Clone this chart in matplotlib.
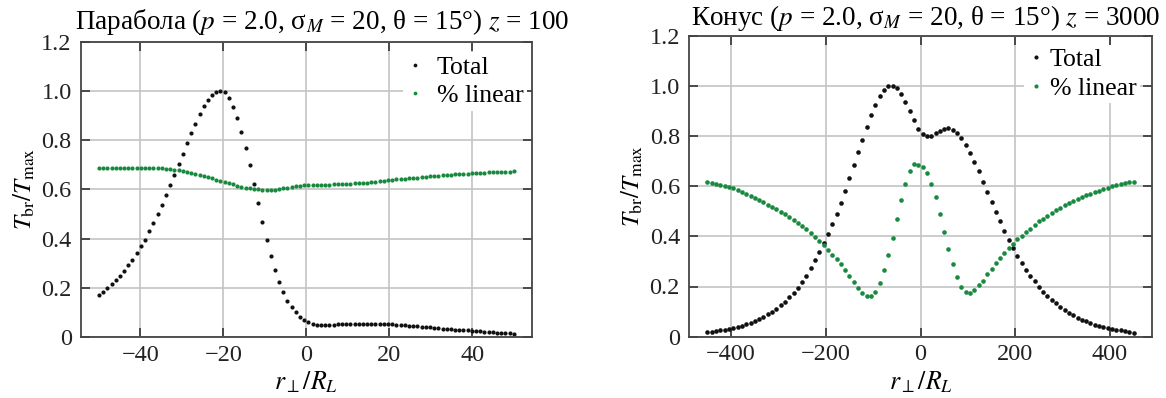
import numpy as np
import matplotlib
matplotlib.use("Agg")
import matplotlib.pyplot as plt

plt.rcParams['font.family'] = ['Liberation Serif', 'DejaVu Serif']
plt.rcParams['mathtext.fontset'] = 'stix'
plt.rcParams['axes.unicode_minus'] = True

# ---------------- data ----------------
left_x = np.linspace(-50, 50, 100)
left_total = [
    0.170, 0.184, 0.199, 0.215, 0.231, 0.250, 0.270, 0.292, 0.315, 0.342,
    0.369, 0.396, 0.430, 0.464, 0.499, 0.537, 0.576, 0.617, 0.659, 0.702,
    0.745, 0.788, 0.829, 0.867, 0.905, 0.937, 0.964, 0.983, 0.994, 1.000,
    0.997, 0.970, 0.935, 0.890, 0.834, 0.770, 0.698, 0.621, 0.544, 0.469,
    0.396, 0.331, 0.273, 0.223, 0.181, 0.147, 0.120, 0.100, 0.083, 0.070,
    0.060, 0.054, 0.050, 0.049, 0.049, 0.050, 0.050, 0.051, 0.051, 0.051,
    0.052, 0.052, 0.052, 0.052, 0.053, 0.053, 0.053, 0.053, 0.052, 0.052,
    0.051, 0.050, 0.049, 0.048, 0.046, 0.045, 0.043, 0.042, 0.040, 0.039,
    0.037, 0.036, 0.034, 0.033, 0.032, 0.030, 0.029, 0.028, 0.027, 0.025,
    0.024, 0.023, 0.022, 0.021, 0.020, 0.018, 0.017, 0.016, 0.015, 0.014,
]
left_linear = [
    0.688, 0.688, 0.688, 0.688, 0.688, 0.688, 0.688, 0.688, 0.688, 0.688,
    0.688, 0.688, 0.687, 0.687, 0.686, 0.685, 0.684, 0.682, 0.680, 0.677,
    0.674, 0.671, 0.667, 0.663, 0.659, 0.655, 0.650, 0.645, 0.640, 0.635,
    0.630, 0.625, 0.620, 0.615, 0.611, 0.607, 0.604, 0.602, 0.600, 0.599,
    0.598, 0.598, 0.599, 0.601, 0.604, 0.607, 0.610, 0.612, 0.614, 0.616,
    0.617, 0.618, 0.618, 0.619, 0.619, 0.619, 0.620, 0.620, 0.621, 0.622,
    0.623, 0.624, 0.625, 0.626, 0.628, 0.629, 0.631, 0.633, 0.635, 0.637,
    0.639, 0.641, 0.642, 0.644, 0.645, 0.647, 0.648, 0.650, 0.651, 0.653,
    0.655, 0.656, 0.657, 0.658, 0.659, 0.661, 0.662, 0.663, 0.664, 0.665,
    0.666, 0.667, 0.668, 0.669, 0.670, 0.670, 0.671, 0.672, 0.672, 0.673,
]

right_x = np.linspace(-450, 450, 100)
right_total = [
    0.017, 0.020, 0.022, 0.025, 0.028, 0.031, 0.035, 0.039, 0.044, 0.049,
    0.055, 0.062, 0.070, 0.079, 0.089, 0.100, 0.112, 0.125, 0.140, 0.157,
    0.175, 0.195, 0.217, 0.240, 0.272, 0.304, 0.336, 0.372, 0.409, 0.449,
    0.489, 0.534, 0.582, 0.631, 0.683, 0.735, 0.785, 0.835, 0.882, 0.924,
    0.959, 0.984, 1.000, 1.000, 0.990, 0.967, 0.935, 0.898, 0.862, 0.829,
    0.809, 0.800, 0.800, 0.811, 0.820, 0.829, 0.830, 0.823, 0.811, 0.790,
    0.764, 0.733, 0.697, 0.659, 0.618, 0.576, 0.537, 0.497, 0.459, 0.421,
    0.387, 0.355, 0.322, 0.292, 0.266, 0.242, 0.220, 0.200, 0.180, 0.164,
    0.148, 0.133, 0.118, 0.106, 0.095, 0.086, 0.076, 0.068, 0.061, 0.055,
    0.048, 0.043, 0.039, 0.035, 0.031, 0.028, 0.025, 0.022, 0.019, 0.016,
]
right_linear = [
    0.615, 0.611, 0.607, 0.603, 0.599, 0.596, 0.591, 0.585, 0.578, 0.569,
    0.561, 0.553, 0.544, 0.535, 0.526, 0.517, 0.507, 0.497, 0.487, 0.476,
    0.465, 0.453, 0.441, 0.428, 0.415, 0.398, 0.381, 0.366, 0.347, 0.327,
    0.308, 0.288, 0.264, 0.241, 0.217, 0.194, 0.175, 0.163, 0.162, 0.179,
    0.214, 0.264, 0.325, 0.394, 0.469, 0.543, 0.610, 0.660, 0.690, 0.685,
    0.676, 0.651, 0.610, 0.556, 0.489, 0.418, 0.349, 0.288, 0.238, 0.200,
    0.180, 0.176, 0.186, 0.205, 0.223, 0.250, 0.270, 0.292, 0.312, 0.333,
    0.353, 0.371, 0.388, 0.402, 0.417, 0.430, 0.445, 0.460, 0.469, 0.482,
    0.493, 0.503, 0.513, 0.523, 0.531, 0.541, 0.549, 0.557, 0.563, 0.570,
    0.576, 0.582, 0.588, 0.594, 0.600, 0.604, 0.608, 0.612, 0.615, 0.618,
]

left_title = 'Парабола ($p$ = 2.0, σ$_{M}$ = 20, θ = 15°) $z$ = 100'
right_title = 'Конус ($p$ = 2.0, σ$_{M}$ = 20, θ = 15°) $z$ = 3000'
series_labels = ['Total', '% linear']
y_ticks = [0, 0.2, 0.4, 0.6, 0.8, 1.0, 1.2]
y_ticklabels = ['0', '0.2', '0.4', '0.6', '0.8', '1.0', '1.2']
left_xticks = [-40, -20, 0, 20, 40]
right_xticks = [-400, -200, 0, 200, 400]

BLACK = '#111111'
GREEN = '#178a3e'
W, H = 1166, 398

fig = plt.figure(figsize=(W / 100, H / 100), dpi=100)

def px_axes(x0, x1, ytop, ybot):
    return fig.add_axes([x0 / W, (H - ybot) / H, (x1 - x0) / W, (ybot - ytop) / H])

axL = px_axes(80.7, 532, 41.8, 337)
axR = px_axes(689, 1152, 35.5, 336.7)

def style(ax, xlim, xticks):
    ax.set_xlim(*xlim)
    ax.set_ylim(0, 1.2)
    ax.set_yticks(y_ticks)
    ax.set_yticklabels(y_ticklabels)
    ax.set_xticks(xticks)
    ax.grid(True, color='#c4c4c4', lw=1.2)
    ax.set_axisbelow(True)
    for s in ax.spines.values():
        s.set_color('#444444')
        s.set_linewidth(1.3)
    ax.tick_params(direction='in', length=6.5, width=1.2, color='#333333',
                   top=True, right=True, labelsize=17.5, labelcolor='#222222')
    ax.tick_params(axis='y', pad=6.5)
    ax.tick_params(axis='x', pad=5.5)
    ax.set_xlabel(r'$r_{\perp}/R_L$', fontsize=18.5, labelpad=3)
    ax.set_ylabel(r'$T_{\rm br}/T_{\rm max}$', fontsize=18, labelpad=3)

axL.plot(left_x, left_total, 'o', ms=3.0, color=BLACK, mec='none', label=series_labels[0])
axL.plot(left_x, left_linear, 'o', ms=3.0, color=GREEN, mec='none', label=series_labels[1])
style(axL, (-54.4, 54.4), left_xticks)

axR.plot(right_x, right_total, 'o', ms=3.3, color=BLACK, mec='none', label=series_labels[0])
axR.plot(right_x, right_linear, 'o', ms=3.3, color=GREEN, mec='none', label=series_labels[1])
style(axR, (-489, 489), right_xticks)

for ax, tp, anchor in ((axL, 0.55, (0.99, 0.965)), (axR, 0.25, (0.975, 0.97))):
    leg = ax.legend(loc='upper right', bbox_to_anchor=anchor, fontsize=18.5,
                    frameon=True, fancybox=False,
                    handlelength=0.6, handletextpad=tp, borderaxespad=0.0,
                    borderpad=0.15, labelspacing=0.2, markerscale=0.9)
    leg.get_frame().set_edgecolor('none')
    leg.get_frame().set_facecolor('white')
    leg.get_frame().set_alpha(1)

fig.text(74.6 / W, (H - 29) / H, left_title, fontsize=19.5, ha='left', va='baseline')
fig.text(690.7 / W, (H - 25) / H, right_title, fontsize=19.5, ha='left', va='baseline')

fig.savefig('out.png', dpi=100)
